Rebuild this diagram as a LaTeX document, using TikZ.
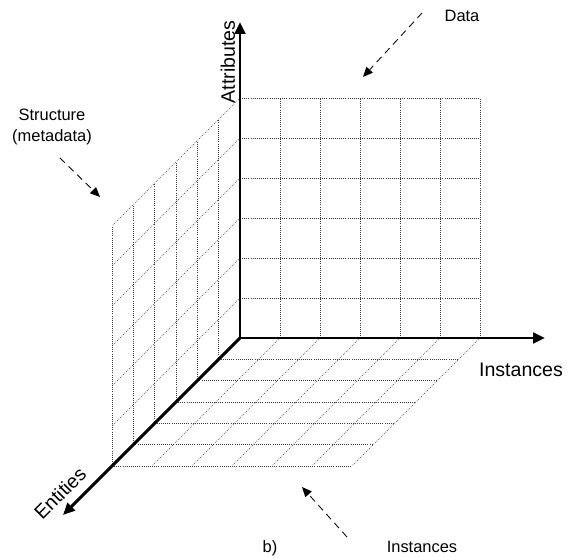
\documentclass[tikz,border=0pt]{standalone}
\usepackage{fontspec}
\setmainfont{Liberation Sans}
\usepackage{tikz}
\usetikzlibrary{arrows.meta, positioning, calc}
\definecolor{mydark}{RGB}{0,0,0}
\definecolor{mygrid}{RGB}{60,60,60}
\tikzset{
  axis/.style={line width=2.1pt, color=mydark},
  axistip/.tip={Triangle[length=8.5pt, width=7.5pt]},
  gridline/.style={densely dotted, line width=0.5pt, color=mygrid},
  pointer/.style={dash pattern=on 5pt off 3.5pt, line width=0.6pt, color=mydark,
    -{Triangle[length=7pt, width=6pt]}},
  biglabel/.style={font=\fontsize{13.9}{16}\selectfont, color=mydark},
  smalllabel/.style={font=\fontsize{11.7}{15}\selectfont, align=center, color=mydark}
}

\begin{document}
\begin{tikzpicture}
  \useasboundingbox (-6,-5.5) rectangle (8.4,8.45);

  % Back plane (data)
  \foreach \i in {1,...,6} {
    \draw[gridline] (\i,0) -- (\i,6);
    \draw[gridline] (0,\i) -- (6,\i);
  }

  % Side plane (structure)
  \foreach \i [evaluate=\i as \d using -0.5333*\i] in {1,...,6} {
    \draw[gridline] (\d,\d) -- (\d,{6+\d});
    \draw[gridline] (0,\i) -- (-3.2,{\i-3.2});
  }

  % Floor plane (instances)
  \foreach \i [evaluate=\i as \d using -0.5333*\i] in {1,...,6} {
    \draw[gridline] (\d,\d) -- ({6+\d},\d);
    \draw[gridline] (\i,0) -- ({\i-3.2},-3.2);
  }

  % Axes
  \coordinate (O) at (0,0);
  \coordinate (attr) at (0,7.9);
  \coordinate (inst) at (7.625,0);
  \coordinate (ent) at (-4.425,-4.425);
  \draw[axis, axistip-axistip] (attr) -- (O) -- (inst);
  \draw[axis, -axistip] (O) -- (ent);

  % Axis labels
  \node[biglabel, rotate=90, anchor=south] (attrlabel) at (0,6.9) {Attributes};
  \node[biglabel] (instlabel) at (7.025,-0.8) {Instances};
  \node[biglabel, rotate=45] (entlabel) at (-4.5,-3.88) {Entities};

  % Notes with pointers
  \node[smalllabel] (datalabel) at (5.55,8.05) {Data};
  \node[smalllabel] (structlabel) at (-4.7,5.275) {Structure\\(metadata)};
  \node[smalllabel] (instnote) at (4.55,-5.225) {Instances};
  \node[smalllabel] (caption) at (0.75,-5.25) {b)};

  \coordinate (datafrom) at (4.55,8.125);
  \coordinate (datato) at (3.075,6.525);
  \coordinate (structfrom) at (-4.5,4.5);
  \coordinate (structto) at (-3.5,3.525);
  \coordinate (instfrom) at (2.675,-4.975);
  \coordinate (instto) at (1.55,-3.725);
  \draw[pointer] (datafrom) -- (datato);
  \draw[pointer] (structfrom) -- (structto);
  \draw[pointer] (instfrom) -- (instto);
\end{tikzpicture}
\end{document}
